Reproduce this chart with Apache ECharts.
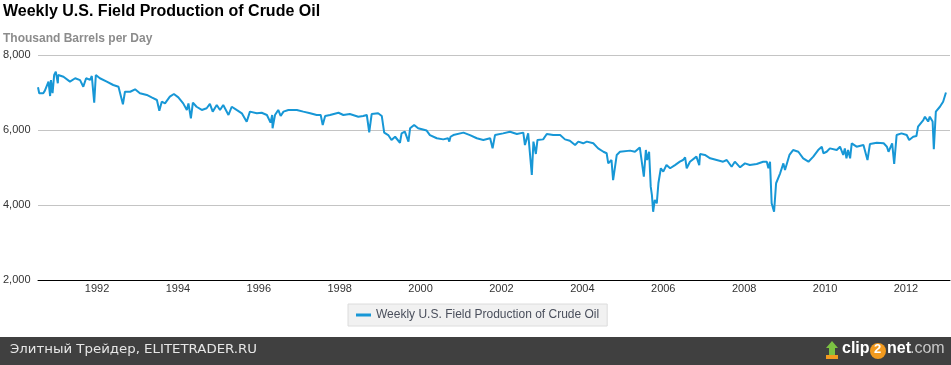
<!DOCTYPE html>
<html>
<head>
<meta charset="utf-8">
<script src="https://cdn.jsdelivr.net/npm/echarts@6/dist/echarts.min.js"></script>
<style>html,body{margin:0;padding:0;background:#fff}#c{width:951px;height:365px}</style>
</head>
<body>
<div id="c"></div>
<script>
// decimal year of each observation
const years = [
1990.54,1990.57,1990.67,1990.71,1990.80,1990.84,1990.86,1990.90,1990.94,1990.98,
1991.03,1991.04,1991.17,1991.33,1991.46,1991.58,1991.66,1991.73,1991.83,1991.87,
1991.93,1991.97,1992.07,1992.24,1992.40,1992.53,1992.64,1992.69,1992.82,1992.94,
1993.06,1993.23,1993.35,1993.48,1993.54,1993.60,1993.68,1993.80,1993.90,1994.01,
1994.13,1994.22,1994.26,1994.32,1994.37,1994.46,1994.59,1994.71,1994.79,1994.86,
1994.96,1995.04,1995.12,1995.25,1995.33,1995.45,1995.58,1995.70,1995.78,1995.95,
1996.07,1996.20,1996.29,1996.33,1996.34,1996.40,1996.48,1996.54,1996.61,1996.73,
1996.94,1997.10,1997.27,1997.43,1997.53,1997.58,1997.64,1997.76,1997.97,1998.09,
1998.25,1998.46,1998.58,1998.67,1998.73,1998.79,1998.95,1999.04,1999.10,1999.20,
1999.28,1999.37,1999.49,1999.53,1999.61,1999.70,1999.74,1999.84,1999.94,2000.15,
2000.23,2000.40,2000.56,2000.68,2000.71,2000.74,2000.81,2001.06,2001.22,2001.39,
2001.55,2001.72,2001.78,2001.84,2002.04,2002.21,2002.38,2002.54,2002.58,2002.66,
2002.75,2002.79,2002.85,2002.89,2003.03,2003.12,2003.28,2003.45,2003.57,2003.69,
2003.82,2003.90,2004.02,2004.11,2004.27,2004.39,2004.52,2004.60,2004.64,2004.72,
2004.76,2004.85,2004.93,2005.18,2005.30,2005.42,2005.52,2005.57,2005.60,2005.65,
2005.69,2005.72,2005.75,2005.79,2005.84,2005.88,2005.94,2006.00,2006.08,2006.17,
2006.29,2006.41,2006.49,2006.54,2006.58,2006.66,2006.82,2006.89,2006.91,2007.03,
2007.16,2007.32,2007.48,2007.57,2007.69,2007.77,2007.90,2008.02,2008.14,2008.31,
2008.47,2008.56,2008.60,2008.64,2008.68,2008.74,2008.79,2008.89,2008.97,2009.01,
2009.12,2009.21,2009.34,2009.46,2009.59,2009.71,2009.83,2009.92,2009.96,2010.04,
2010.12,2010.29,2010.37,2010.45,2010.49,2010.53,2010.57,2010.62,2010.66,2010.78,
2010.95,2011.05,2011.11,2011.28,2011.45,2011.53,2011.57,2011.66,2011.71,2011.77,
2011.89,2012.02,2012.08,2012.18,2012.26,2012.30,2012.43,2012.47,2012.55,2012.59,
2012.66,2012.69,2012.74,2012.84,2012.92,2012.99
];
// thousand barrels per day
const production = [
7140,6980,6980,7050,7290,6905,7330,6980,7470,7555,
7245,7465,7420,7290,7380,7330,7155,7380,7335,7440,
6730,7465,7380,7290,7200,7155,6685,7020,7020,7085,
6980,6935,6870,6800,6515,6755,6710,6890,6960,6870,
6710,6535,6710,6310,6730,6620,6535,6580,6695,6490,
6665,6535,6665,6400,6620,6535,6445,6220,6490,6445,
6460,6400,6195,6400,6045,6400,6535,6375,6490,6535,
6535,6490,6445,6400,6400,6135,6375,6400,6460,6400,
6425,6355,6375,6400,5940,6425,6445,6375,5930,5865,
5735,5820,5660,5910,5955,5690,6045,6135,6045,5985,
5865,5780,5750,5780,5690,5820,5865,5930,5865,5780,
5735,5780,5510,5865,5910,5955,5895,5930,5600,5910,
4800,5690,5360,5735,5750,5895,5865,5865,5750,5715,
5600,5690,5645,5690,5645,5510,5420,5380,5110,5200,
4665,5335,5420,5450,5420,5535,4755,5467,5200,5420,
4490,4265,3820,4135,4045,4580,4980,4890,5065,4980,
5065,5155,5200,5270,4980,5155,5290,5065,5360,5335,
5245,5200,5155,5200,5020,5155,5005,5110,5065,5095,
5155,5155,4980,5155,4045,3820,4580,4845,5110,4935,
5335,5465,5420,5245,5155,5290,5465,5555,5380,5420,
5510,5465,5555,5335,5510,5245,5465,5245,5645,5555,
5600,5200,5625,5660,5645,5555,5420,5645,5095,5865,
5910,5865,5735,5820,5840,6090,6265,6355,6225,6355,
6225,5485,6490,6620,6755,7000
];
const yearTicks = [1992,1994,1996,1998,2000,2002,2004,2006,2008,2010,2012];
const valueTicks = [2000,4000,6000,8000];
const seriesName = 'Weekly U.S. Field Production of Crude Oil';

const chart = echarts.init(document.getElementById('c'), null, {renderer:'canvas'});
const FONT = 'Liberation Sans, Arial, sans-serif';
chart.setOption({
  animation: false,
  backgroundColor: '#ffffff',
  title: [
    {text: 'Weekly U.S. Field Production of Crude Oil', left: 3, top: 4, padding: 0,
     textStyle: {fontFamily: FONT, fontSize: 16, fontWeight: 'bold', color: '#000'}},
    {text: 'Thousand Barrels per Day', left: 3, top: 33, padding: 0,
     textStyle: {fontFamily: FONT, fontSize: 12, fontWeight: 'bold', color: '#8c8c8c'}}
  ],
  grid: {left: 38, right: 1, top: 55, bottom: 85, containLabel: false},
  legend: {
    data: [seriesName], left: 348, top: 304,
    backgroundColor: '#f1f1f1', borderColor: '#dcdcdc', borderWidth: 1,
    padding: [5, 8, 5, 8], icon: 'rect', itemWidth: 15, itemHeight: 3,
    textStyle: {fontFamily: FONT, fontSize: 12, color: '#4a4f5c'}
  },
  xAxis: {
    type: 'value', min: 1990.54, max: 2013.09,
    splitLine: {show: false},
    axisLine: {lineStyle: {color: '#000', width: 1}},
    axisTick: {show: false},
    axisLabel: {customValues: yearTicks, formatter: v => String(Math.round(v)),
      fontFamily: FONT, fontSize: 11, color: '#333', margin: 3}
  },
  yAxis: {
    type: 'value', min: valueTicks[0], max: valueTicks[valueTicks.length-1], interval: 2000,
    axisLine: {show: false}, axisTick: {show: false},
    splitLine: {lineStyle: {color: '#c4c4c4', width: 1}},
    axisLabel: {align: 'left', margin: 35, fontFamily: FONT, fontSize: 11, color: '#333',
      formatter: v => v.toLocaleString('en-US')}
  },
  series: [{
    name: seriesName, type: 'line', showSymbol: false, symbol: 'none',
    data: years.map((y, i) => [y, production[i]]),
    lineStyle: {color: '#1797d6', width: 2}, itemStyle: {color: '#1797d6'}
  }],
  graphic: [
    {type: 'rect', left: 0, top: 337, shape: {width: 951, height: 28}, style: {fill: '#404040'}},
    {type: 'text', x: 10, y: 344, scaleX: 1.11, style: {text: 'Элитный Трейдер, ELITETRADER.RU',
      fill: '#e6e6e6', font: '12px "DejaVu Sans", sans-serif'}},
    {type: 'polygon', shape: {points: [[832,341],[838,348],[835,348],[835,356],[829,356],[829,348],[826,348]]},
      style: {fill: '#7cc242'}},
    {type: 'rect', shape: {x: 826, y: 355, width: 12, height: 4}, style: {fill: '#f29a1f'}},
    {type: 'text', left: 842, top: 341, style: {text: 'clip', fill: '#ffffff',
      font: 'bold 16px "Liberation Sans Narrow", "Liberation Sans", sans-serif'}},
    {type: 'circle', shape: {cx: 878, cy: 351, r: 8}, style: {fill: '#f29a1f'}},
    {type: 'text', left: 874, top: 343, style: {text: '2', fill: '#ffffff',
      font: 'bold 13px "Liberation Sans", sans-serif'}},
    {type: 'text', left: 887, top: 341, style: {text: 'net', fill: '#ffffff',
      font: 'bold 16px "Liberation Sans Narrow", "Liberation Sans", sans-serif'}},
    {type: 'text', left: 910, top: 341, style: {text: '.com', fill: '#c8c8c8',
      font: '16px "Liberation Sans Narrow", "Liberation Sans", sans-serif'}}
  ]
});
</script>
</body>
</html>
